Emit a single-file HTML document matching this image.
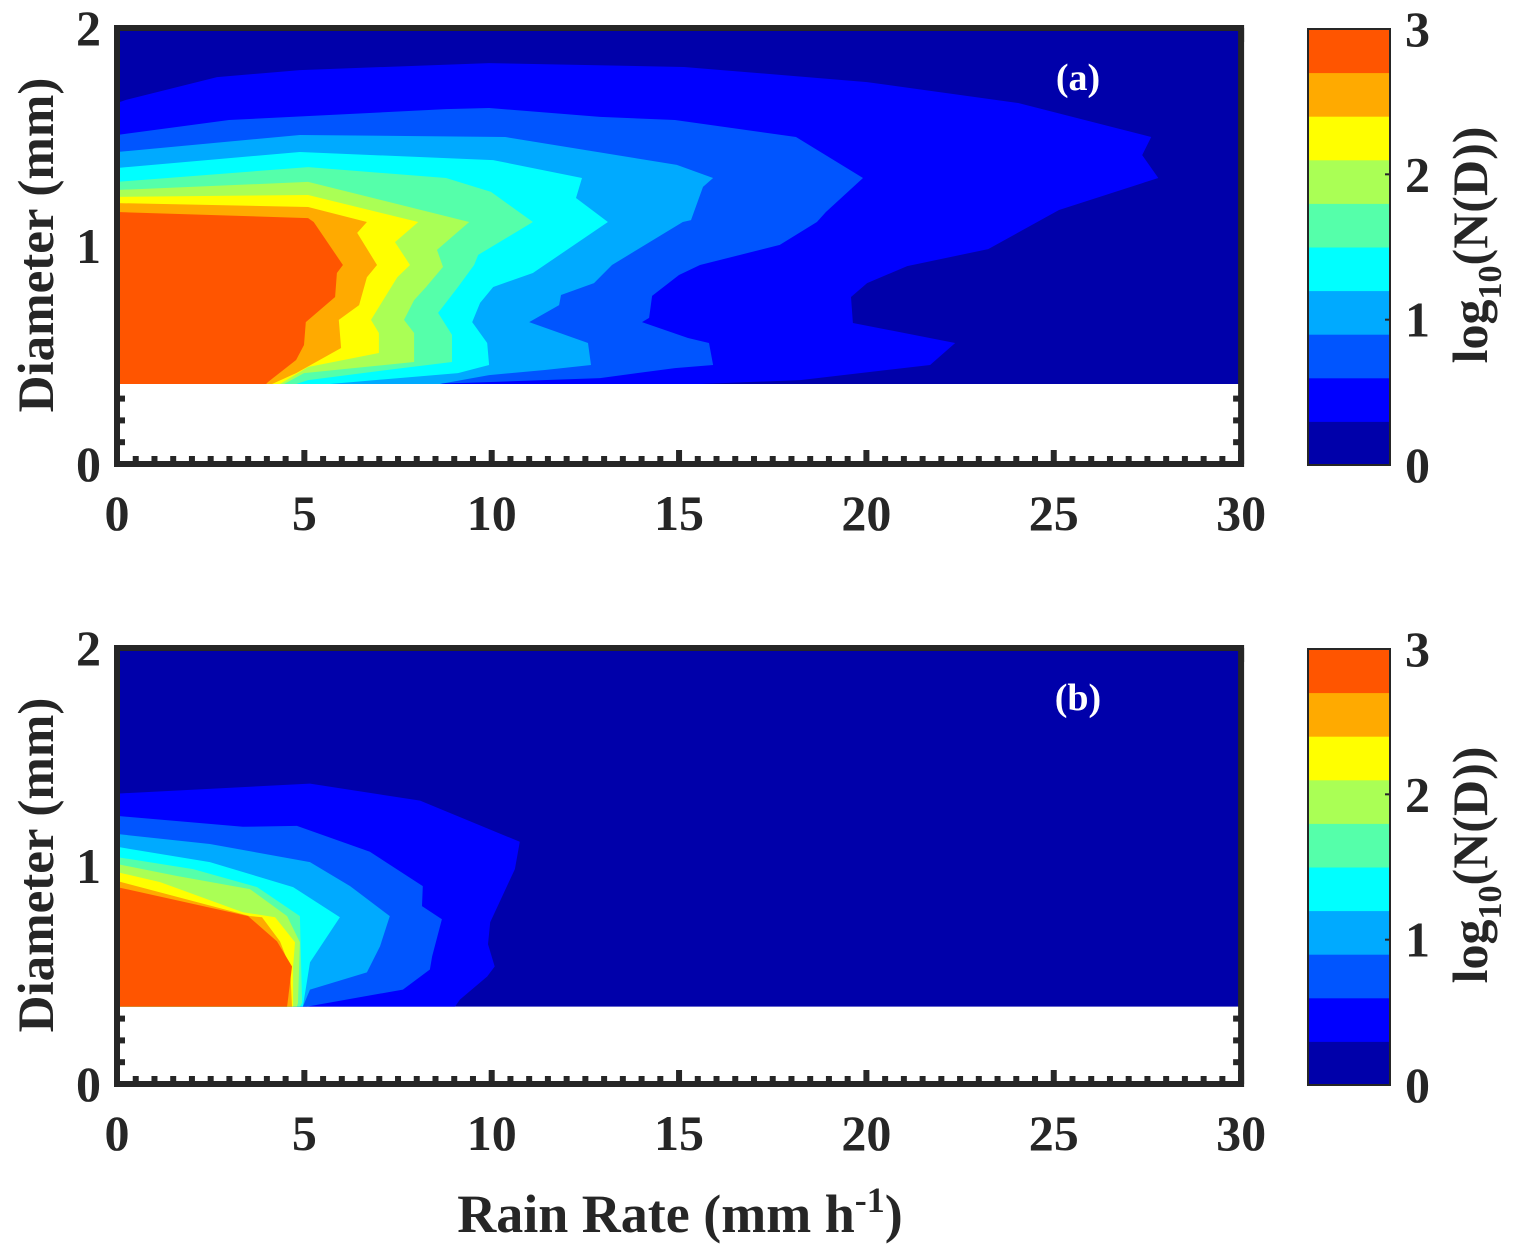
<!DOCTYPE html>
<html><head><meta charset="utf-8"><style>
html,body{margin:0;padding:0;background:#fff;}
svg{display:block;font-family:"Liberation Serif",serif;font-weight:bold;}
</style></head><body>
<svg id="fig" width="1521" height="1255" viewBox="0 0 1521 1255" xmlns="http://www.w3.org/2000/svg"></svg>
<script>
// ---- data ----
const levelColors = ["#0000AA","#0000FF","#0055FF","#00AAFF","#00FFFF","#55FFAA","#AAFF55","#FFFF00","#FFAA00","#FF5500"];
const xTicks = [0,5,10,15,20,25,30];
const yTicks = [0,1,2];
const cbTicks = [0,1,2,3];
const bottomA = 0.367;
const bottomB = 0.355;
// panel (a): contour polygons [rainRate, diameter] for levels 1..9
const contoursA = [
 [[0,1.656],[0.24,1.67],[2.67,1.775],[4.88,1.807],[9.93,1.839],[15.13,1.821],[20.02,1.752],[24.05,1.656],[27.6,1.5],[27.36,1.417],[27.79,1.312],[25.14,1.165],[23.25,0.986],[21.09,0.908],[20.02,0.83],[19.59,0.766],[19.64,0.647],[22.37,0.555],[21.7,0.454],[18.23,0.385],[15.56,0.367]],
 [[0,1.509],[2.99,1.578],[8.78,1.628],[9.93,1.633],[12.89,1.592],[14.89,1.578],[18.12,1.5],[19.91,1.312],[18.92,1.156],[18.68,1.11],[17.69,1.005],[15.56,0.913],[15.0,0.867],[14.28,0.771],[14.2,0.67],[14.01,0.651],[15.24,0.578],[15.8,0.555],[15.91,0.454],[14.89,0.44],[12.89,0.394],[9.31,0.372],[8.09,0.367]],
 [[0,1.431],[4.88,1.509],[10.36,1.5],[14.94,1.372],[15.91,1.312],[15.64,1.271],[15.32,1.119],[15.1,1.11],[13.21,0.913],[12.73,0.83],[11.85,0.775],[11.8,0.729],[11.0,0.651],[12.57,0.555],[12.65,0.454],[11.42,0.431],[9.93,0.408],[8.62,0.367]],
 [[0,1.358],[4.88,1.431],[10.04,1.394],[12.41,1.312],[12.25,1.22],[13.1,1.11],[11.1,0.876],[10.04,0.812],[9.69,0.739],[9.48,0.651],[9.88,0.555],[9.93,0.454],[9.1,0.417],[5.68,0.367]],
 [[0,1.294],[5.1,1.362],[8.78,1.312],[9.98,1.248],[11.1,1.11],[9.64,0.959],[9.53,0.913],[9.1,0.812],[8.57,0.693],[8.94,0.592],[8.94,0.468],[7.61,0.44],[5.1,0.385],[4.78,0.367]],
 [[0,1.257],[5.1,1.294],[9.4,1.11],[8.54,0.982],[8.7,0.904],[8.25,0.812],[7.93,0.752],[7.66,0.661],[7.93,0.601],[7.93,0.468],[4.99,0.417],[4.46,0.367]],
 [[0,1.225],[5.1,1.234],[8.04,1.11],[7.42,1.018],[7.82,0.913],[7.48,0.857],[6.78,0.661],[6.99,0.601],[6.99,0.509],[5.1,0.445],[4.35,0.367]],
 [[0,1.197],[5.1,1.179],[6.67,1.11],[6.41,1.06],[6.94,0.913],[6.67,0.857],[6.46,0.729],[5.92,0.661],[5.98,0.532],[4.78,0.417],[4.14,0.367]],
 [[0,1.156],[5.1,1.128],[5.25,1.11],[6.03,0.913],[5.87,0.876],[5.82,0.766],[5.04,0.651],[4.99,0.546],[4.78,0.477],[4.03,0.376],[3.98,0.367]]
];
// panel (b)
const contoursB = [
 [[0,1.332],[5.15,1.378],[8.09,1.3],[10.75,1.111],[10.62,0.986],[9.96,0.742],[9.9,0.641],[10.08,0.539],[9.88,0.493],[9.15,0.387],[9.02,0.355]],
 [[0,1.23],[3.36,1.18],[4.8,1.184],[6.75,1.065],[8.16,0.908],[8.14,0.816],[8.67,0.756],[8.41,0.585],[8.35,0.525],[7.63,0.433],[5.07,0.355]],
 [[0,1.147],[2.48,1.101],[5.15,1.018],[6.22,0.908],[7.28,0.77],[7.02,0.631],[6.67,0.512],[5.15,0.433],[4.96,0.355]],
 [[0,1.088],[2.48,1.018],[4.7,0.903],[5.95,0.765],[5.15,0.558],[4.96,0.355]],
 [[0,1.041],[2.03,0.986],[3.74,0.903],[4.88,0.77],[4.94,0.373],[4.88,0.355]],
 [[0,1.009],[1.6,0.954],[3.55,0.894],[4.54,0.77],[4.88,0.65],[4.83,0.373],[4.8,0.355]],
 [[0,0.972],[1.15,0.926],[3.36,0.788],[4.22,0.765],[4.75,0.65],[4.7,0.539],[4.7,0.355]],
 [[0,0.931],[3.55,0.77],[3.87,0.765],[4.35,0.654],[4.62,0.535],[4.67,0.355]],
 [[0,0.903],[3.5,0.77],[4.27,0.654],[4.67,0.539],[4.54,0.355]]
];
// ---- drawing ----
const NS="http://www.w3.org/2000/svg";
const svg=document.getElementById('fig');
function mk(tag,attrs,parent){const e=document.createElementNS(NS,tag);for(const k in attrs)e.setAttribute(k,attrs[k]);(parent||svg).appendChild(e);return e;}
const X=r=>117+r*37.47;
function panel(id,top,contours,bottom,label){
  const Y=d=>top+436-218*d;
  const g=mk('g',{});
  
  
  const clip=mk('clipPath',{id:'clip'+id},g);
  mk('rect',{x:X(0),y:Y(2),width:X(30)-X(0),height:Y(0)-Y(2)},clip);
  const ticks=mk('g',{fill:'#262626'},g);
  
  
  for(let i=0;i<=60;i++){const r=i*0.5;const major=i%10===0;const h=major?14:8;
    mk('rect',{x:X(r)-3,y:Y(0)-h,width:6,height:h},ticks);
    mk('rect',{x:X(r)-3,y:Y(2),width:6,height:h},ticks);}
  for(let i=0;i<=20;i++){const d=i*0.1;const major=i%10===0;const w=major?14:8;
    mk('rect',{x:X(0),y:Y(d)-3,width:w,height:6},ticks);
    mk('rect',{x:X(30)-w,y:Y(d)-3,width:w,height:6},ticks);}
  const fg=mk('g',{'clip-path':'url(#clip'+id+')'},g);
  const bg=mk('rect',{x:X(0),y:Y(2),width:X(30)-X(0),height:Y(bottom)-Y(2),fill:levelColors[0]},fg);
  
  
  contours.forEach((poly,i)=>{
    const pts=poly.map(p=>X(p[0]).toFixed(1)+','+Y(p[1]).toFixed(1));
    pts.push(X(0)+','+Y(bottom).toFixed(1));
    const p=mk('polygon',{points:pts.join(' '),fill:levelColors[i+1]},fg);
    
    
  });
  const box=mk('rect',{x:X(0),y:Y(2),width:X(30)-X(0),height:Y(0)-Y(2),fill:'none',stroke:'#262626','stroke-width':6},g);
  
  
  xTicks.forEach(v=>{const t=mk('text',{x:X(v),y:Y(0)+66,'text-anchor':'middle','font-size':50,fill:'#262626'},g);t.textContent=v;
    
    });
  yTicks.forEach(v=>{const t=mk('text',{x:101,y:Y(v)+17,'text-anchor':'end','font-size':50,fill:'#262626'},g);t.textContent=v;
    
    });
  const yt=mk('text',{x:0,y:0,transform:'translate(53,'+(top+217)+') rotate(-90)','text-anchor':'middle','font-size':51,fill:'#262626'},g);
  yt.textContent='Diameter (mm)';
  
  
  const pl=mk('text',{x:1078,y:top+62,'text-anchor':'middle','font-size':38,fill:'#fff'},g);
  pl.textContent=label;
  
  
  const cb=mk('g',{},g);
  
  
  const cy0=top+437, cy1=top+1, ch=(cy0-cy1)/10;
  levelColors.forEach((c,i)=>{const r=mk('rect',{x:1308,y:cy0-(i+1)*ch,width:82,height:ch+0.5,fill:c},cb);
    
    });
  mk('rect',{x:1308,y:cy1,width:82,height:cy0-cy1,fill:'none',stroke:'#262626','stroke-width':2},cb);
  cbTicks.forEach(v=>{const yy=cy0-v*(cy0-cy1)/3;
    mk('rect',{x:1385,y:yy-1,width:5,height:2,fill:'#262626'},cb);
    const t=mk('text',{x:1405,y:yy+17,'font-size':50,fill:'#262626'},cb);t.textContent=v;
    
    });
  const ct=mk('text',{x:0,y:0,transform:'translate(1487,'+(top+217)+') rotate(-90)','text-anchor':'middle','font-size':50,fill:'#262626'},cb);
  ct.innerHTML='log<tspan font-size="34" dy="14">10</tspan><tspan dy="-14">(N(D))</tspan>';
  
  
}
panel('a',28,contoursA,bottomA,'(a)');
panel('b',648,contoursB,bottomB,'(b)');
const xt=mk('text',{x:680,y:1232,'text-anchor':'middle','font-size':54,fill:'#262626'});
xt.innerHTML='Rain Rate (mm h<tspan font-size="36" dy="-20">-1</tspan><tspan dy="20">)</tspan>';


</script>
</body></html>
